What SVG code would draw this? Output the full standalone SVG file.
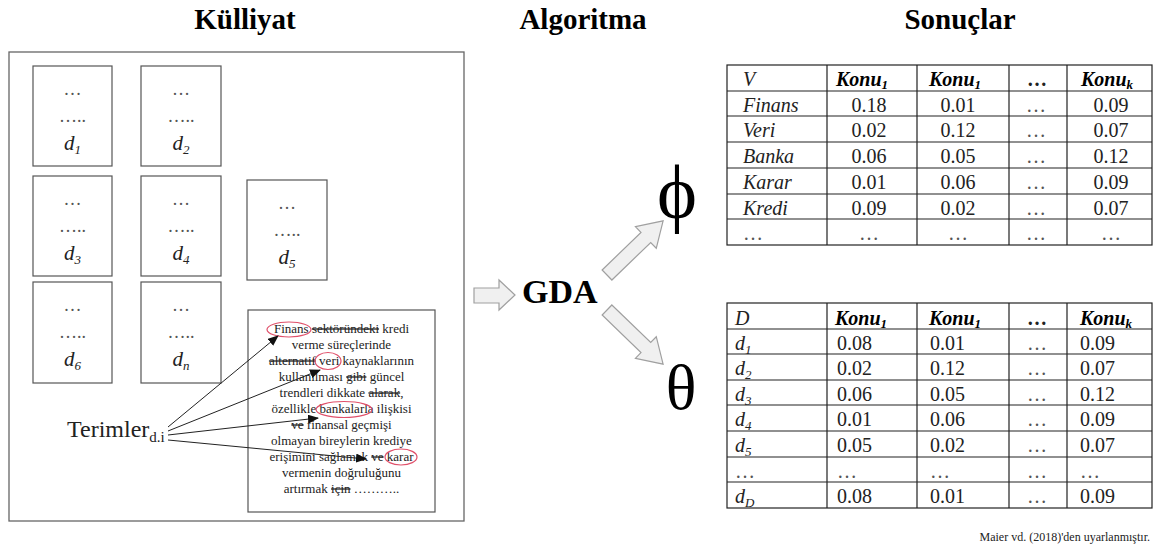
<svg xmlns="http://www.w3.org/2000/svg" width="1159" height="547" viewBox="0 0 1159 547">
<defs>
<style>
text{font-family:"Liberation Serif","Times New Roman",Times,Tinos,"DejaVu Serif","Noto Serif",serif}
.title{font-weight:bold;font-size:29px;fill:#000;text-anchor:middle}
.doc{fill:#fff;stroke:#555;stroke-width:1.2}
.dots{font-size:18px;fill:#555;text-anchor:middle}
.dlab{font-style:italic;font-size:21px;fill:#222;text-anchor:middle}
.para{font-size:13px;fill:#222;text-anchor:middle}
.red{fill:none;stroke:#e0506a;stroke-width:1.2}
.link{stroke:#222;stroke-width:1;fill:none}
.barrow{fill:#f0f0f0;stroke:#a0a0a0;stroke-width:1.2}
.grid{stroke:#222;stroke-width:1.2;fill:none}
.cell{font-size:20px;fill:#222}
.it{font-style:italic}
.hd{font-weight:bold;font-style:italic;fill:#000}
.mid{text-anchor:middle}
.ell{fill:#555}
</style>
<marker id="ah" markerWidth="11" markerHeight="9" refX="10" refY="4.5" orient="auto" markerUnits="userSpaceOnUse"><path d="M0,0 L11,4.5 L0,9 z" fill="#111"/></marker>
</defs>
<rect width="1159" height="547" fill="#fff"/>

<text class="title" x="245" y="29">Külliyat</text>
<text class="title" x="583" y="29">Algoritma</text>
<text class="title" x="960" y="29">Sonuçlar</text>

<g id="corpus">
<rect x="9" y="52" width="455" height="469" fill="none" stroke="#666" stroke-width="1.3"/>
</g>

<g id="doc-d1"><rect class="doc" x="33" y="66" width="79" height="100"/><text class="dots" x="72.5" y="95">…</text><text class="dots" x="72.5" y="122">…..</text><text class="dlab" x="72.5" y="150">d<tspan font-size="13" dy="4">1</tspan></text></g>
<g id="doc-d2"><rect class="doc" x="141" y="66" width="80" height="100"/><text class="dots" x="181" y="95">…</text><text class="dots" x="181" y="122">…..</text><text class="dlab" x="181" y="150">d<tspan font-size="13" dy="4">2</tspan></text></g>
<g id="doc-d3"><rect class="doc" x="33" y="176" width="79" height="100"/><text class="dots" x="72.5" y="205">…</text><text class="dots" x="72.5" y="232">…..</text><text class="dlab" x="72.5" y="260">d<tspan font-size="13" dy="4">3</tspan></text></g>
<g id="doc-d4"><rect class="doc" x="141" y="176" width="80" height="100"/><text class="dots" x="181" y="205">…</text><text class="dots" x="181" y="232">…..</text><text class="dlab" x="181" y="260">d<tspan font-size="13" dy="4">4</tspan></text></g>
<g id="doc-d5"><rect class="doc" x="247" y="180" width="80" height="100"/><text class="dots" x="287" y="209">…</text><text class="dots" x="287" y="236">…..</text><text class="dlab" x="287" y="264">d<tspan font-size="13" dy="4">5</tspan></text></g>
<g id="doc-d6"><rect class="doc" x="33" y="282" width="79" height="101"/><text class="dots" x="72.5" y="311">…</text><text class="dots" x="72.5" y="338">…..</text><text class="dlab" x="72.5" y="366">d<tspan font-size="13" dy="4">6</tspan></text></g>
<g id="doc-dn"><rect class="doc" x="141" y="282" width="80" height="101"/><text class="dots" x="181" y="311">…</text><text class="dots" x="181" y="338">…..</text><text class="dlab" x="181" y="366">d<tspan font-size="13" dy="4">n</tspan></text></g>

<g id="doc-text">
<rect class="doc" x="248" y="310" width="187" height="202"/>
<text class="para" x="341.5" y="333">Finans <tspan text-decoration="line-through">sektöründeki</tspan> kredi</text>
<text class="para" x="341.5" y="349">verme süreçlerinde</text>
<text class="para" x="341.5" y="365"><tspan text-decoration="line-through">alternatif</tspan> veri kaynaklarının</text>
<text class="para" x="341.5" y="381">kullanılması <tspan text-decoration="line-through">gibi</tspan> güncel</text>
<text class="para" x="341.5" y="397">trendleri dikkate <tspan text-decoration="line-through">alarak</tspan>,</text>
<text class="para" x="341.5" y="413">özellikle bankalarla ilişkisi</text>
<text class="para" x="341.5" y="429"><tspan text-decoration="line-through">ve</tspan> finansal geçmişi</text>
<text class="para" x="341.5" y="445">olmayan bireylerin krediye</text>
<text class="para" x="341.5" y="461">erişimini sağlamak <tspan text-decoration="line-through">ve</tspan> karar</text>
<text class="para" x="341.5" y="477">vermenin doğruluğunu</text>
<text class="para" x="341.5" y="493">artırmak <tspan text-decoration="line-through">için</tspan> ………..</text>
<ellipse class="red" cx="289" cy="329.5" rx="22" ry="7.5"/>
<ellipse class="red" cx="328" cy="361" rx="13" ry="8.5"/>
<ellipse class="red" cx="344" cy="409.5" rx="28" ry="8"/>
<ellipse class="red" cx="401" cy="457" rx="16" ry="8"/>
</g>

<g id="terms">
<text x="67" y="437" font-size="24" fill="#222">Terimler<tspan font-size="15" dy="5">d.i</tspan></text>
</g>

<g id="connectors">
<line class="link" x1="168" y1="427" x2="278" y2="336" marker-end="url(#ah)"/>
<line class="link" x1="168" y1="431" x2="320" y2="370" marker-end="url(#ah)"/>
<line class="link" x1="168" y1="435" x2="318" y2="418" marker-end="url(#ah)"/>
<line class="link" x1="168" y1="440" x2="366" y2="459" marker-end="url(#ah)"/>
<polygon class="barrow" points="474,288 499,288 499,280 515,295 499,310 499,303 474,303"/>
<polygon class="barrow" transform="translate(607,275) rotate(-44)" points="0,-7 54,-7 54,-15 78,0 54,15 54,7 0,7"/>
<polygon class="barrow" transform="translate(607,310) rotate(44)" points="0,-7 54,-7 54,-15 78,0 54,15 54,7 0,7"/>
</g>

<g id="algo">
<text x="522" y="303" font-weight="bold" font-size="34" fill="#000">GDA</text>
</g>
<g id="phi"><text x="677" y="218" font-size="76" fill="#000" text-anchor="middle">ϕ</text></g>
<g id="theta"><text x="681" y="409" font-size="64" fill="#000" text-anchor="middle">θ</text></g>

<g id="table-phi">
<rect class="grid" x="727" y="65" width="425" height="180"/>
<path class="grid" d="M727,91H1152M727,116H1152M727,142H1152M727,168H1152M727,194H1152M727,219H1152M827,65V245M917,65V245M1009,65V245M1067,65V245"/>
<g class="cell">
<text class="it" x="743" y="86">V</text>
<text class="hd" x="836" y="86">Konu<tspan font-size="13" dy="3">1</tspan></text>
<text class="hd" x="929" y="86">Konu<tspan font-size="13" dy="3">1</tspan></text>
<text class="mid" x="1037" y="86" font-weight="bold">…</text>
<text class="hd" x="1081" y="86">Konu<tspan font-size="13" dy="3">k</tspan></text>
<text class="it" x="743" y="112">Finans</text><text class="mid" x="869" y="112">0.18</text><text class="mid" x="958" y="112">0.01</text><text class="mid ell" x="1036" y="112">…</text><text class="mid" x="1111" y="112">0.09</text>
<text class="it" x="743" y="137">Veri</text><text class="mid" x="869" y="137">0.02</text><text class="mid" x="958" y="137">0.12</text><text class="mid ell" x="1036" y="137">…</text><text class="mid" x="1111" y="137">0.07</text>
<text class="it" x="743" y="163">Banka</text><text class="mid" x="869" y="163">0.06</text><text class="mid" x="958" y="163">0.05</text><text class="mid ell" x="1036" y="163">…</text><text class="mid" x="1111" y="163">0.12</text>
<text class="it" x="743" y="189">Karar</text><text class="mid" x="869" y="189">0.01</text><text class="mid" x="958" y="189">0.06</text><text class="mid ell" x="1036" y="189">…</text><text class="mid" x="1111" y="189">0.09</text>
<text class="it" x="743" y="215">Kredi</text><text class="mid" x="869" y="215">0.09</text><text class="mid" x="958" y="215">0.02</text><text class="mid ell" x="1036" y="215">…</text><text class="mid" x="1111" y="215">0.07</text>
<text class="ell" x="743" y="240">…</text><text class="mid ell" x="869" y="240">…</text><text class="mid ell" x="958" y="240">…</text><text class="mid ell" x="1036" y="240">…</text><text class="mid ell" x="1111" y="240">…</text>
</g>
</g>

<g id="table-theta">
<rect class="grid" x="727" y="303" width="425" height="205"/>
<path class="grid" d="M727,329H1152M727,354H1152M727,380H1152M727,405H1152M727,431H1152M727,457H1152M727,482H1152M827,303V508M917,303V508M1009,303V508M1067,303V508"/>
<g class="cell">
<text class="it" x="735" y="325">D</text>
<text class="hd" x="835" y="325">Konu<tspan font-size="13" dy="3">1</tspan></text>
<text class="hd" x="929" y="325">Konu<tspan font-size="13" dy="3">1</tspan></text>
<text class="mid" x="1037" y="325" font-weight="bold">…</text>
<text class="hd" x="1080" y="325">Konu<tspan font-size="13" dy="3">k</tspan></text>
<text class="it" x="735" y="350">d<tspan font-size="13" dy="4">1</tspan></text><text x="837" y="350">0.08</text><text x="930" y="350">0.01</text><text class="mid ell" x="1037" y="350">…</text><text x="1080" y="350">0.09</text>
<text class="it" x="735" y="375">d<tspan font-size="13" dy="4">2</tspan></text><text x="837" y="375">0.02</text><text x="930" y="375">0.12</text><text class="mid ell" x="1037" y="375">…</text><text x="1080" y="375">0.07</text>
<text class="it" x="735" y="401">d<tspan font-size="13" dy="4">3</tspan></text><text x="837" y="401">0.06</text><text x="930" y="401">0.05</text><text class="mid ell" x="1037" y="401">…</text><text x="1080" y="401">0.12</text>
<text class="it" x="735" y="426">d<tspan font-size="13" dy="4">4</tspan></text><text x="837" y="426">0.01</text><text x="930" y="426">0.06</text><text class="mid ell" x="1037" y="426">…</text><text x="1080" y="426">0.09</text>
<text class="it" x="735" y="452">d<tspan font-size="13" dy="4">5</tspan></text><text x="837" y="452">0.05</text><text x="930" y="452">0.02</text><text class="mid ell" x="1037" y="452">…</text><text x="1080" y="452">0.07</text>
<text class="ell" x="735" y="478">…</text><text class="ell" x="837" y="478">…</text><text class="ell" x="930" y="478">…</text><text class="mid ell" x="1037" y="478">…</text><text class="ell" x="1080" y="478">…</text>
<text class="it" x="735" y="503">d<tspan font-size="13" dy="4">D</tspan></text><text x="837" y="503">0.08</text><text x="930" y="503">0.01</text><text class="mid ell" x="1037" y="503">…</text><text x="1080" y="503">0.09</text>
</g>
</g>

<g id="source">
<text x="1150" y="541" font-size="12" fill="#222" text-anchor="end">Maier vd. (2018)'den uyarlanmıştır.</text>
</g>
</svg>
